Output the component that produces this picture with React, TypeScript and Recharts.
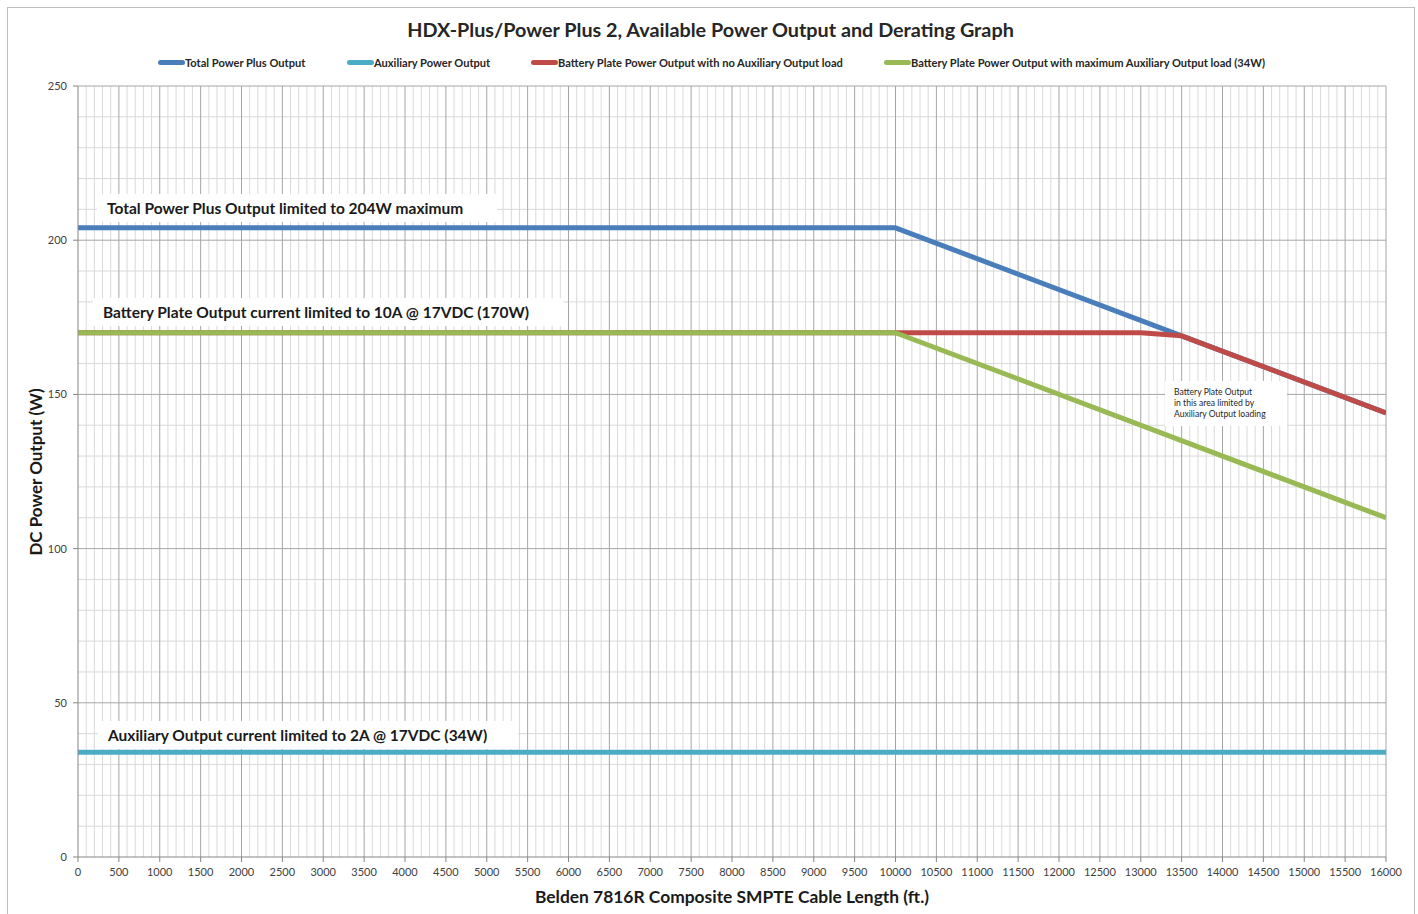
import React from 'react';
import { LineChart, Line, XAxis, YAxis, ReferenceLine } from 'recharts';

// axis ticks
const xTicks = [
  0, 500, 1000, 1500, 2000, 2500, 3000, 3500, 4000, 4500, 5000, 5500, 6000, 6500, 7000, 7500,
  8000, 8500, 9000, 9500, 10000, 10500, 11000, 11500, 12000, 12500, 13000, 13500, 14000, 14500,
  15000, 15500, 16000,
];
const yTicks = [0, 50, 100, 150, 200, 250];

// series (x = cable length ft, y = watts)
const totalPowerPlus = [
  { x: 0, y: 204 },
  { x: 10000, y: 204 },
  { x: 13500, y: 169 },
  { x: 16000, y: 144 },
];
const auxiliaryPower = [
  { x: 0, y: 34 },
  { x: 16000, y: 34 },
];
const batteryNoAux = [
  { x: 0, y: 170 },
  { x: 13000, y: 170 },
  { x: 13500, y: 169 },
  { x: 16000, y: 144 },
];
const batteryMaxAux = [
  { x: 0, y: 170 },
  { x: 10000, y: 170 },
  { x: 16000, y: 110 },
];

const seriesNames = [
  'Total Power Plus Output',
  'Auxiliary Power Output',
  'Battery Plate Power Output with no Auxiliary Output load',
  'Battery Plate Power Output with maximum Auxiliary Output load (34W)',
];
const seriesColors = ['#4a7ebb', '#4bacc6', '#be4b48', '#98b954'];

// minor gridlines every 100 ft / 10 W between the labelled ticks
const xMinor: number[] = [];
xTicks.slice(0, -1).forEach(t => {
  for (let k = 100; k < 500; k += 100) xMinor.push(t + k);
});
const yMinor: number[] = [];
yTicks.slice(0, -1).forEach(t => {
  for (let k = 10; k < 50; k += 10) yMinor.push(t + k);
});

const FONT = 'Lato, "Open Sans", sans-serif';

const legendLeft = [158, 347, 531, 884];

const noteBox = (left: number, top: number, width: number, text: string) => (
  <div
    style={{
      position: 'absolute',
      left,
      top,
      width,
      height: 28,
      background: '#fff',
      fontFamily: FONT,
      fontWeight: 700,
      fontSize: 15.5,
      lineHeight: '28px',
      color: '#1a1a1a',
      paddingLeft: 10,
      boxSizing: 'border-box',
      whiteSpace: 'nowrap',
    }}
  >
    {text}
  </div>
);

export default function App() {
  return (
    <div style={{ position: 'absolute', left: 0, top: 0, width: 1418, height: 914, overflow: 'hidden', background: '#fff' }}>
      {/* chart frame */}
      <div style={{ position: 'absolute', left: 7, top: 7, width: 1406, height: 940, border: '1px solid #bfbfbf' }} />

      <div
        style={{
          position: 'absolute', left: 0, top: 17, width: 1421, textAlign: 'center',
          fontFamily: FONT, fontWeight: 700, fontSize: 19.8, color: '#262626',
        }}
      >
        HDX-Plus/Power Plus 2, Available Power Output and Derating Graph
      </div>

      {seriesNames.map((name, i) => (
        <div
          key={name}
          style={{
            position: 'absolute', left: legendLeft[i], top: 55, height: 14, display: 'flex', alignItems: 'center',
            fontFamily: FONT, fontWeight: 700, fontSize: 11.1, color: '#262626', whiteSpace: 'nowrap',
          }}
        >
          <span style={{ display: 'inline-block', width: 27, height: 5, borderRadius: 3, background: seriesColors[i] }} />
          {name}
        </div>
      ))}

      <div style={{ position: 'absolute', left: 0, top: 0 }}>
        <LineChart width={1418} height={914} margin={{ top: 86, right: 32, bottom: 27, left: 0 }}>
          <XAxis
            type="number"
            dataKey="x"
            domain={[0, 16000]}
            ticks={xTicks}
            interval={0}
            allowDataOverflow
            height={30}
            stroke="#868686"
            tickSize={5}
            tickMargin={6}
            tick={{ fontSize: 11, fill: '#404040', fontFamily: FONT }}
          />
          <YAxis
            type="number"
            dataKey="y"
            domain={[0, 250]}
            ticks={yTicks}
            interval={0}
            width={78}
            stroke="#868686"
            tickSize={5}
            tickMargin={6}
            tick={{ fontSize: 11, fill: '#404040', fontFamily: FONT }}
          />
          {xMinor.map(v => (
            <ReferenceLine key={`xm${v}`} x={v} stroke="#d9d9d9" strokeWidth={1} />
          ))}
          {yMinor.map(v => (
            <ReferenceLine key={`ym${v}`} y={v} stroke="#d9d9d9" strokeWidth={1} />
          ))}
          {xTicks.slice(1).map(v => (
            <ReferenceLine key={`xM${v}`} x={v} stroke="#a6a6a6" strokeWidth={1} />
          ))}
          {yTicks.slice(1).map(v => (
            <ReferenceLine key={`yM${v}`} y={v} stroke="#a6a6a6" strokeWidth={1} />
          ))}
          <Line data={totalPowerPlus} dataKey="y" name={seriesNames[0]} stroke={seriesColors[0]} strokeWidth={5} dot={false} isAnimationActive={false} strokeLinejoin="round" />
          <Line data={auxiliaryPower} dataKey="y" name={seriesNames[1]} stroke={seriesColors[1]} strokeWidth={5} dot={false} isAnimationActive={false} />
          <Line data={batteryNoAux} dataKey="y" name={seriesNames[2]} stroke={seriesColors[2]} strokeWidth={5} dot={false} isAnimationActive={false} strokeLinejoin="round" />
          <Line data={batteryMaxAux} dataKey="y" name={seriesNames[3]} stroke={seriesColors[3]} strokeWidth={5} dot={false} isAnimationActive={false} strokeLinejoin="round" />
        </LineChart>
      </div>

      {noteBox(97, 194, 400, 'Total Power Plus Output limited to 204W maximum')}
      {noteBox(93, 298, 470, 'Battery Plate Output current limited to 10A @ 17VDC (170W)')}
      {noteBox(98, 721, 420, 'Auxiliary Output current limited to 2A @ 17VDC (34W)')}

      <div
        style={{
          position: 'absolute', left: 1165, top: 381, width: 122, height: 45, background: '#fff',
          fontFamily: FONT, fontSize: 8.6, lineHeight: '11px', color: '#262626', paddingLeft: 9, paddingTop: 6,
          boxSizing: 'border-box', whiteSpace: 'nowrap',
        }}
      >
        Battery Plate Output<br />in this area limited by<br />Auxiliary Output loading
      </div>

      <div
        style={{
          position: 'absolute', left: 35, top: 472, transform: 'translate(-50%, -50%) rotate(-90deg)',
          fontFamily: FONT, fontWeight: 700, fontSize: 17, color: '#1a1a1a', whiteSpace: 'nowrap',
        }}
      >
        DC Power Output (W)
      </div>
      <div
        style={{
          position: 'absolute', left: 732, top: 896, transform: 'translate(-50%, -50%)',
          fontFamily: FONT, fontWeight: 700, fontSize: 17.4, color: '#1a1a1a', whiteSpace: 'nowrap',
        }}
      >
        Belden 7816R Composite SMPTE Cable Length (ft.)
      </div>
    </div>
  );
}
